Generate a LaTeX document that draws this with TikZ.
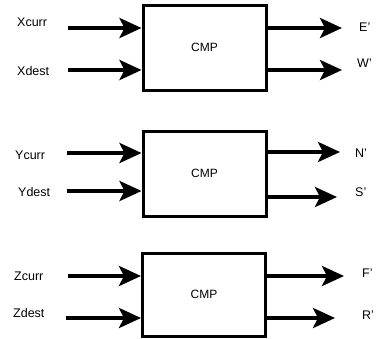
\documentclass[tikz,border=0pt]{standalone}
\usepackage{fontspec}
\setmainfont{Liberation Sans}
\usetikzlibrary{arrows.meta}
\begin{document}
\begin{tikzpicture}[x=1pt,y=-1pt,
  cmpbox/.style={draw,line width=3pt,fill=white,minimum width=123pt,minimum height=85pt,inner sep=0pt,font=\fontsize{12}{14}\selectfont},
  lbl/.style={anchor=west,inner sep=0pt,font=\fontsize{12.5}{14}\selectfont},
  sig/.style={line width=4pt,-{Stealth[length=22pt,width=20pt,inset=5pt]}}]
\useasboundingbox (0,0) rectangle (379,338);
% boxes
\node[cmpbox] (b1) at (204.5,47.5) {CMP};
\node[cmpbox] (b2) at (204.5,173.5) {CMP};
\node[cmpbox,minimum height=83pt] (b3) at (204,294.5) {CMP};
% group 1
\coordinate (xc) at (68,28);
\coordinate (xd) at (68,70);
\coordinate (eo) at (342,28);
\coordinate (wo) at (342,70);
\draw[sig] (xc) -- (xc -| b1.west);
\draw[sig] (xd) -- (xd -| b1.west);
\draw[sig] (eo -| b1.east) -- (eo);
\draw[sig] (wo -| b1.east) -- (wo);
\node[lbl] (lxc) at (17,22) {Xcurr};
\node[lbl] (lxd) at (17,71) {Xdest};
\node[lbl] (le) at (359,27) {E'};
\node[lbl] (lw) at (357,63) {W'};
% group 2
\coordinate (yc) at (67,153);
\coordinate (yd) at (67,191);
\coordinate (no) at (340,152);
\coordinate (so) at (337,197);
\draw[sig] (yc) -- (yc -| b2.west);
\draw[sig] (yd) -- (yd -| b2.west);
\draw[sig] (no -| b2.east) -- (no);
\draw[sig] (so -| b2.east) -- (so);
\node[lbl] (lyc) at (15,155) {Ycurr};
\node[lbl] (lyd) at (18,192) {Ydest};
\node[lbl] (ln) at (355,153) {N'};
\node[lbl] (ls) at (355,192) {S'};
% group 3
\coordinate (zc) at (68,276);
\coordinate (zd) at (66,318);
\coordinate (fo) at (344,276);
\coordinate (ro) at (335,318);
\draw[sig] (zc) -- (zc -| b3.west);
\draw[sig] (zd) -- (zd -| b3.west);
\draw[sig] (fo -| b3.east) -- (fo);
\draw[sig] (ro -| b3.east) -- (ro);
\node[lbl] (lzc) at (14,276) {Zcurr};
\node[lbl] (lzd) at (13,313) {Zdest};
\node[lbl] (lf) at (362,273) {F'};
\node[lbl] (lr) at (362,315) {R'};
\end{tikzpicture}
\end{document}
